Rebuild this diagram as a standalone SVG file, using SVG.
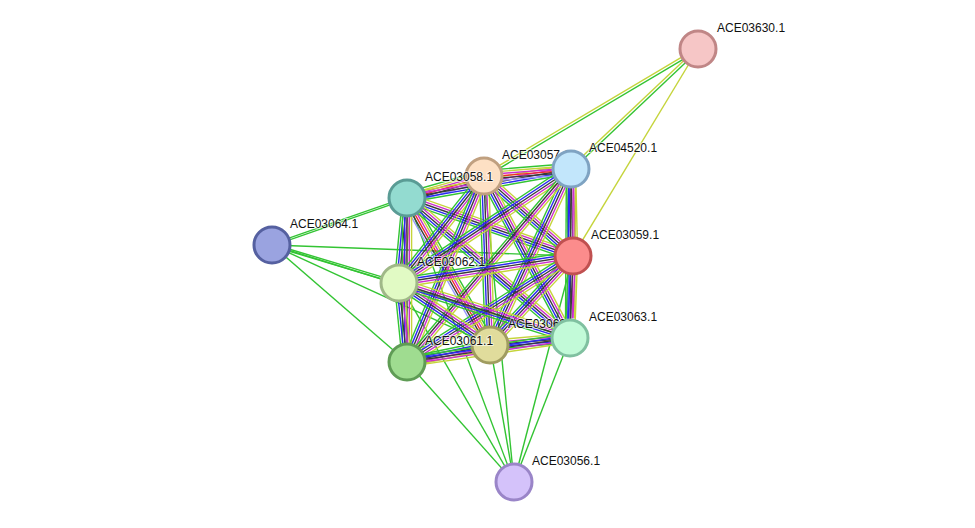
<svg xmlns="http://www.w3.org/2000/svg" xmlns:xlink="http://www.w3.org/1999/xlink" width="975" height="528" viewBox="0 0 975 528">
<style>
line{stroke-width:1.4}
.gr{stroke:#33c433}.ye{stroke:#c5d43a}.mg{stroke:#cc2ecc}.bk{stroke:#3a3a3a}.bl{stroke:#2a2af0}.rd{stroke:#f02a2a}.lv{stroke:#9a9aff}
.node circle{stroke-width:3}
.node text{font-family:"Liberation Sans",Arial,sans-serif;font-size:12px;fill:#111;stroke:#fff;stroke-width:2;stroke-opacity:0.6;paint-order:stroke}
</style>
<defs>
<g id="b5"><line class="ye" x1="0" y1="-4.6" x2="1" y2="-4.6"/><line class="mg" x1="0" y1="-2.3" x2="1" y2="-2.3"/><line class="bk" x1="0" y1="0" x2="1" y2="0"/><line class="bl" x1="0" y1="2.3" x2="1" y2="2.3"/><line class="gr" x1="0" y1="4.6" x2="1" y2="4.6"/></g>
<g id="b6"><line class="gr" x1="0" y1="-5.5" x2="1" y2="-5.5"/><line class="ye" x1="0" y1="-3.3" x2="1" y2="-3.3"/><line class="mg" x1="0" y1="-1.1" x2="1" y2="-1.1"/><line class="rd" x1="0" y1="1.1" x2="1" y2="1.1"/><line class="bk" x1="0" y1="3.3" x2="1" y2="3.3"/><line class="lv" x1="0" y1="5.5" x2="1" y2="5.5"/></g>
<g id="b4"><line class="ye" x1="0" y1="-3.4" x2="1" y2="-3.4"/><line class="mg" x1="0" y1="-1.1" x2="1" y2="-1.1"/><line class="bk" x1="0" y1="1.1" x2="1" y2="1.1"/><line class="gr" x1="0" y1="3.4" x2="1" y2="3.4"/></g>
<g id="g1"><line class="gr" x1="0" y1="0" x2="1" y2="0"/></g>
<g id="g2"><line class="gr" x1="0" y1="-1" x2="1" y2="-1"/><line class="gr" x1="0" y1="1" x2="1" y2="1"/></g>
<g id="gy"><line class="gr" x1="0" y1="-1.3" x2="1" y2="-1.3"/><line class="ye" x1="0" y1="1.3" x2="1" y2="1.3"/></g>
<g id="y1"><line class="ye" x1="0" y1="0" x2="1" y2="0"/></g>
</defs>
<rect width="975" height="528" fill="#fff"/>
<g id="connectors">
<use href="#g2" transform="translate(272 245) rotate(-19.20) scale(142.9 1)"/>
<use href="#g1" transform="translate(272 245) rotate(2.09) scale(301.2 1)"/>
<use href="#g2" transform="translate(272 245) rotate(16.66) scale(132.6 1)"/>
<use href="#g1" transform="translate(272 245) rotate(17.33) scale(312.2 1)"/>
<use href="#g1" transform="translate(272 245) rotate(24.64) scale(239.8 1)"/>
<use href="#g1" transform="translate(272 245) rotate(40.91) scale(178.6 1)"/>
<use href="#gy" transform="translate(698 49) rotate(149.31) scale(248.8 1)"/>
<use href="#gy" transform="translate(698 49) rotate(136.63) scale(174.7 1)"/>
<use href="#y1" transform="translate(698 49) rotate(121.13) scale(241.8 1)"/>
<use href="#g1" transform="translate(514 482) rotate(-131.72) scale(160.8 1)"/>
<use href="#g1" transform="translate(514 482) rotate(-120.02) scale(229.8 1)"/>
<use href="#g1" transform="translate(514 482) rotate(-110.64) scale(303.5 1)"/>
<use href="#g1" transform="translate(514 482) rotate(-99.94) scale(139.1 1)"/>
<use href="#g1" transform="translate(514 482) rotate(-95.60) scale(307.5 1)"/>
<use href="#g1" transform="translate(514 482) rotate(-75.37) scale(233.6 1)"/>
<use href="#g1" transform="translate(514 482) rotate(-68.75) scale(154.5 1)"/>
<use href="#b6" transform="translate(407 198) rotate(-15.95) scale(80.1 1)"/>
<use href="#b5" transform="translate(407 198) rotate(-10.03) scale(166.5 1)"/>
<use href="#b5" transform="translate(407 198) rotate(19.26) scale(175.8 1)"/>
<use href="#b5" transform="translate(407 198) rotate(95.38) scale(85.4 1)"/>
<use href="#b6" transform="translate(407 198) rotate(60.55) scale(168.8 1)"/>
<use href="#b5" transform="translate(407 198) rotate(40.66) scale(214.9 1)"/>
<use href="#b5" transform="translate(407 198) rotate(90) scale(164 1)"/>
<use href="#b6" transform="translate(484 176) rotate(-4.6) scale(87.3 1)"/>
<use href="#b5" transform="translate(484 176) rotate(41.96) scale(119.7 1)"/>
<use href="#b5" transform="translate(484 176) rotate(128.47) scale(136.7 1)"/>
<use href="#b5" transform="translate(484 176) rotate(87.97) scale(169.1 1)"/>
<use href="#b5" transform="translate(484 176) rotate(62.04) scale(183.4 1)"/>
<use href="#b5" transform="translate(484 176) rotate(112.49) scale(201.3 1)"/>
<use href="#b5" transform="translate(571 169) rotate(88.68) scale(87 1)"/>
<use href="#b5" transform="translate(571 169) rotate(146.46) scale(206.3 1)"/>
<use href="#b5" transform="translate(571 169) rotate(114.71) scale(193.7 1)"/>
<use href="#b5" transform="translate(571 169) rotate(90.34) scale(169 1)"/>
<use href="#b4" transform="translate(571 169) rotate(130.36) scale(253.3 1)"/>
<use href="#b5" transform="translate(573 256) rotate(171.18) scale(176.1 1)"/>
<use href="#b5" transform="translate(573 256) rotate(132.99) scale(121.7 1)"/>
<use href="#b5" transform="translate(573 256) rotate(92.10) scale(82.05 1)"/>
<use href="#b5" transform="translate(573 256) rotate(147.44) scale(197 1)"/>
<use href="#b5" transform="translate(399 283) rotate(34.27) scale(110.1 1)"/>
<use href="#b5" transform="translate(399 283) rotate(17.83) scale(179.6 1)"/>
<use href="#b5" transform="translate(399 283) rotate(84.22) scale(79.4 1)"/>
<use href="#b5" transform="translate(490 345) rotate(-5.0) scale(80.3 1)"/>
<use href="#b5" transform="translate(490 345) rotate(168.43) scale(84.7 1)"/>
<use href="#b5" transform="translate(570 338) rotate(171.62) scale(164.8 1)"/>
</g>
<g id="n03630" class="node"><circle cx="698" cy="49" r="18" fill="#f6c6c6" stroke="#c08686"/><text x="717" y="32">ACE03630.1</text></g>
<g id="n03057" class="node"><circle cx="484" cy="176" r="18" fill="#fde0c4" stroke="#c0a080"/><text x="502" y="159">ACE03057.1</text></g>
<g id="n04520" class="node"><circle cx="571" cy="169" r="18" fill="#c2e6fb" stroke="#7fa3c2"/><text x="589" y="152">ACE04520.1</text></g>
<g id="n03058" class="node"><circle cx="407" cy="198" r="18" fill="#93dbd0" stroke="#5a9c95"/><text x="425" y="181">ACE03058.1</text></g>
<g id="n03064" class="node"><circle cx="272" cy="245" r="18" fill="#9aa3e0" stroke="#5560a0"/><text x="290" y="228">ACE03064.1</text></g>
<g id="n03059" class="node"><circle cx="573" cy="256" r="18" fill="#fb8c8c" stroke="#c05050"/><text x="591" y="239">ACE03059.1</text></g>
<g id="n03062" class="node"><circle cx="399" cy="283" r="18" fill="#e1fac4" stroke="#a0b888"/><text x="417" y="266">ACE03062.1</text></g>
<g id="n03060" class="node"><circle cx="490" cy="345" r="18" fill="#e0dc9c" stroke="#a09c60"/><text x="508" y="328">ACE03060.1</text></g>
<g id="n03063" class="node"><circle cx="570" cy="338" r="18" fill="#c2fad8" stroke="#80c0a0"/><text x="589" y="321">ACE03063.1</text></g>
<g id="n03061" class="node"><circle cx="407" cy="362" r="18" fill="#9fdc90" stroke="#5f9c55"/><text x="425" y="345">ACE03061.1</text></g>
<g id="n03056" class="node"><circle cx="514" cy="482" r="18" fill="#d4c2fa" stroke="#9a85c8"/><text x="532" y="465">ACE03056.1</text></g>
</svg>
